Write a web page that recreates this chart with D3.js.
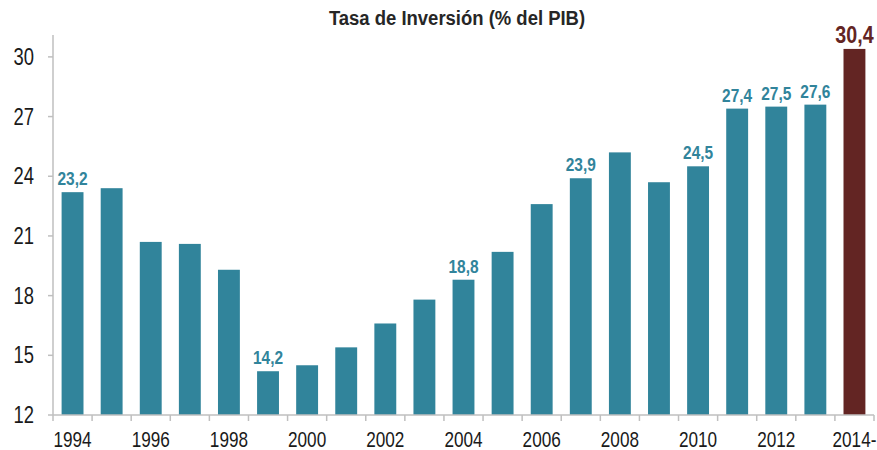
<!DOCTYPE html>
<html><head><meta charset="utf-8">
<script src="https://cdn.jsdelivr.net/npm/d3@7"></script>
<style>
body{margin:0;background:#fff;}
text{font-family:"Liberation Sans",Arial,sans-serif;}
</style></head>
<body><svg id="c" width="877" height="450"></svg>
<script>
const title = "Tasa de Inversión (% del PIB)";
const years = ["1994","1995","1996","1997","1998","1999","2000","2001","2002","2003","2004","2005","2006","2007","2008","2009","2010","2011","2012","2013","2014"];
const values = [23.2,23.4,20.7,20.6,19.3,14.2,14.5,15.4,16.6,17.8,18.8,20.2,22.6,23.9,25.2,23.7,24.5,27.4,27.5,27.6,30.4];
const xTickLabels = ["1994","","1996","","1998","","2000","","2002","","2004","","2006","","2008","","2010","","2012","","2014-"];
const shownLabels = ["23,2","","","","","14,2","","","","","18,8","","","23,9","","","24,5","27,4","27,5","27,6","30,4"];
const yTicks = [12,15,18,21,24,27,30];

const svg = d3.select("#c");
const x = d3.scaleBand().domain(years).range([53,874]).paddingInner(0.44).paddingOuter(0.22);
const y = d3.scaleLinear().domain([12,31.1]).range([415,35]);
const teal = "#31849B", red = "#632523", axisCol = "#bfbfbf";
const step = x.step(), gap = step - x.bandwidth();
const last = years.length-1;

// title
svg.append("text").attr("transform","translate(457,25) scale(0.88,1)").attr("text-anchor","middle")
  .attr("font-size",21).attr("font-weight","bold").attr("fill","#262626").text(title);

// bars
svg.selectAll("rect.bar").data(years).enter().append("rect")
  .attr("x",d=>x(d)).attr("width",x.bandwidth())
  .attr("y",(d,i)=>y(values[i])).attr("height",(d,i)=>y(12)-y(values[i]))
  .attr("fill",(d,i)=>i===last?red:teal);

// data labels
svg.selectAll("text.lbl").data(years).enter().append("text")
  .attr("transform",(d,i)=>`translate(${x(d)+x.bandwidth()/2},${y(values[i])-(i===last?6:7)}) scale(${i===last?0.82:0.86},1)`)
  .attr("text-anchor","middle").attr("font-weight","bold")
  .attr("font-size",(d,i)=>i===last?24:18)
  .attr("fill",(d,i)=>i===last?red:teal)
  .text((d,i)=>shownLabels[i]);

// y axis
svg.append("line").attr("x1",53).attr("x2",53).attr("y1",y(31.1)).attr("y2",y(12))
  .attr("stroke",axisCol).attr("stroke-width",1.5);
svg.selectAll("line.yt").data(yTicks).enter().append("line")
  .attr("x1",48).attr("x2",53).attr("y1",d=>y(d)).attr("y2",d=>y(d))
  .attr("stroke",axisCol).attr("stroke-width",1.5);
svg.selectAll("text.yl").data(yTicks).enter().append("text")
  .attr("transform",d=>`translate(34,${y(d)+8}) scale(0.8,1)`)
  .attr("text-anchor","end").attr("font-size",23).attr("fill","#1a1a1a")
  .text(d=>d3.format("d")(d));

// x axis
svg.append("line").attr("x1",53).attr("x2",874).attr("y1",y(12)).attr("y2",y(12))
  .attr("stroke",axisCol).attr("stroke-width",1.5);
const tickPos = years.map(d=>x(d)-gap/2).concat([x(years[last])+x.bandwidth()+gap/2]);
svg.selectAll("line.xt").data(tickPos).enter().append("line")
  .attr("x1",d=>d).attr("x2",d=>d).attr("y1",y(12)).attr("y2",y(12)+6)
  .attr("stroke",axisCol).attr("stroke-width",1.5);
svg.selectAll("text.xl").data(years).enter().append("text")
  .attr("transform",d=>`translate(${x(d)+x.bandwidth()/2},447) scale(0.78,1)`)
  .attr("text-anchor","middle").attr("font-size",22).attr("fill","#1a1a1a")
  .text((d,i)=>xTickLabels[i]);
</script></body></html>
